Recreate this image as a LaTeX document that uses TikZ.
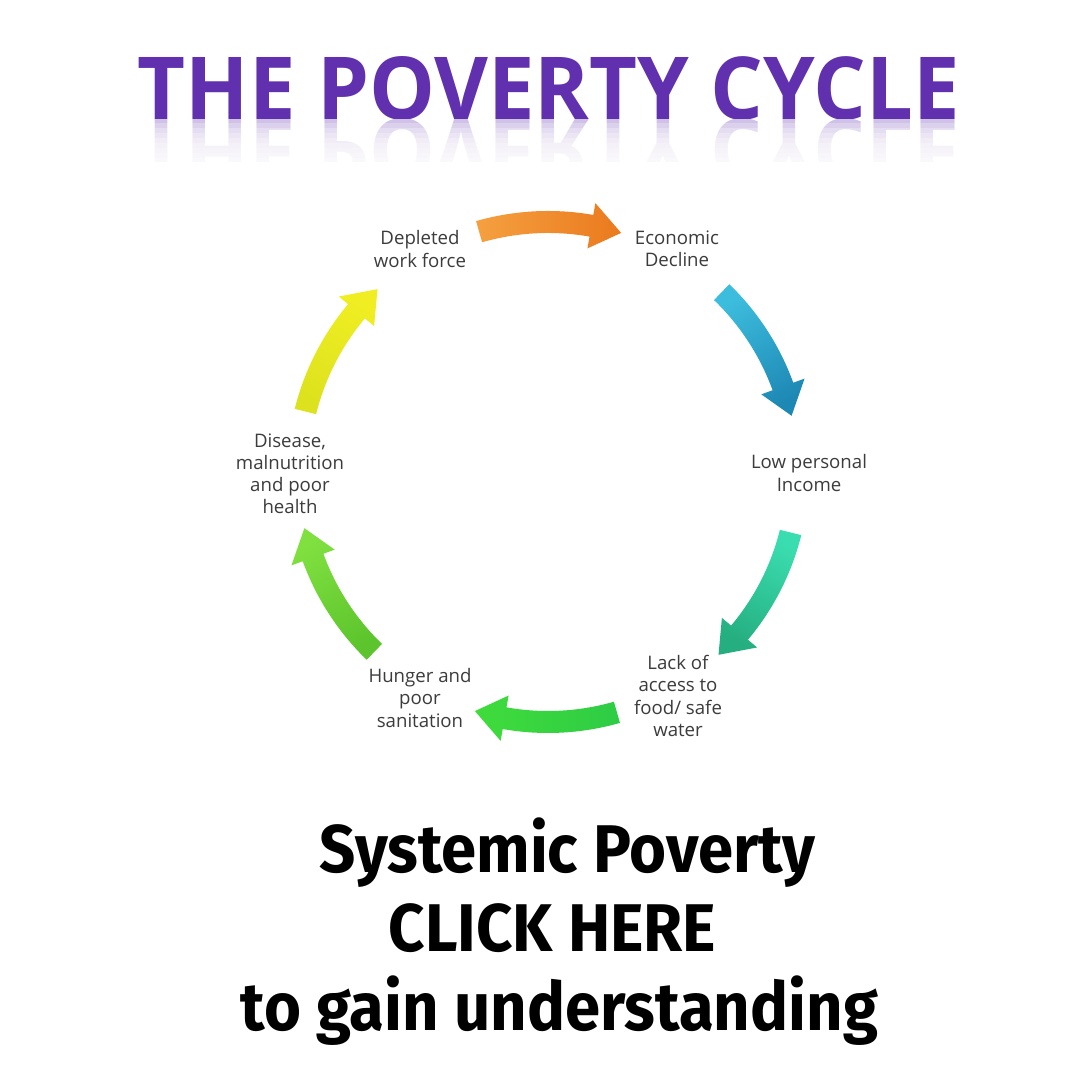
\documentclass[tikz,border=0pt]{standalone}
\usepackage{fontspec}
\setmainfont{Open Sans}
\newfontfamily\bannerfont{Fira Sans}
\definecolor{titlepurple}{HTML}{6130AE}
\definecolor{labeltext}{HTML}{3C3C3C}
\definecolor{orangeA}{HTML}{F5A040}
\definecolor{orangeB}{HTML}{EA7A1E}
\definecolor{blueA}{HTML}{3DBDDD}
\definecolor{blueB}{HTML}{1D88B4}
\definecolor{tealA}{HTML}{3ADDB0}
\definecolor{tealB}{HTML}{25AE80}
\definecolor{greenA}{HTML}{2ECC45}
\definecolor{greenB}{HTML}{40DC3C}
\definecolor{limeA}{HTML}{5CC42C}
\definecolor{limeB}{HTML}{80E040}
\definecolor{yellowA}{HTML}{DDE21E}
\definecolor{yellowB}{HTML}{F0EE22}

\begin{document}
\begin{tikzpicture}[
  steplabel/.style={align=center, inner sep=0pt, text=labeltext,
    font=\fontsize{5.3}{6.3}\selectfont},
  bannerline/.style={anchor=base, inner sep=0pt, text=black, xscale=0.94,
    font=\bannerfont\bfseries\fontsize{19.2}{24}\selectfont}]
\newcommand{\cyclearrow}[3]{%
  \shade[top color=#2, bottom color=#3, shading angle=#1]
    (#1+16:2.39) arc[start angle=#1+16, end angle=#1-10, radius=2.39]
    -- (#1-10:2.27) -- (#1-17:2.50) -- (#1-10:2.73)
    -- (#1-10:2.61) arc[start angle=#1-10, end angle=#1+16, radius=2.61]
    -- cycle;}
\fill[white] (0,0) rectangle (10.8,10.8);
\useasboundingbox (0,0) rectangle (10.8,10.8);

% title and its reflection
\node[anchor=base, inner sep=0pt, text=titlepurple, font=\bfseries] (title)
  at (5.49,9.60) {\resizebox{8.22cm}{0.63cm}{THE POVERTY CYCLE}};
\begin{scope}
  \clip (1.2,9.18) rectangle (9.8,9.60);
  \node[anchor=base, inner sep=0pt, yscale=-1, text=titlepurple!30, font=\bfseries]
    (mirror) at (5.49,9.60) {\resizebox{8.22cm}{0.63cm}{THE POVERTY CYCLE}};
  \foreach \k in {1,...,8}
    \fill[white, opacity=0.27] (1.2,9.18) rectangle (9.8,9.62-0.05*\k);
\end{scope}

% the six stages
\node[steplabel] (depleted) at (4.20,8.31) {Depleted\\work force};
\node[steplabel] (decline) at (6.77,8.31) {Economic\\Decline};
\node[steplabel] (income) at (8.09,6.07) {Low personal\\Income};
\node[steplabel] (access) at (6.78,3.84) {Lack of\\access to\\food/ safe\\water};
\node[steplabel] (hunger) at (4.20,3.82) {Hunger and\\poor\\sanitation};
\node[steplabel] (disease) at (2.90,6.06) {Disease,\\malnutrition\\and poor\\health};

% block arrows round the cycle
\coordinate (hub) at (5.48,6.08);
\begin{scope}[shift={(hub)}]
  \cyclearrow{90}{orangeA}{orangeB}
  \cyclearrow{30}{blueA}{blueB}
  \cyclearrow{-30}{tealA}{tealB}
  \cyclearrow{-90}{greenA}{greenB}
  \cyclearrow{-150}{limeA}{limeB}
  \cyclearrow{150}{yellowA}{yellowB}
\end{scope}

% call to action
\node[bannerline] (lineone) at (5.675,2.07) {Systemic Poverty};
\node[bannerline] (linetwo) at (5.525,1.28) {CLICK HERE};
\node[bannerline] (linethree) at (5.595,0.49) {to gain understanding};
\end{tikzpicture}
\end{document}
